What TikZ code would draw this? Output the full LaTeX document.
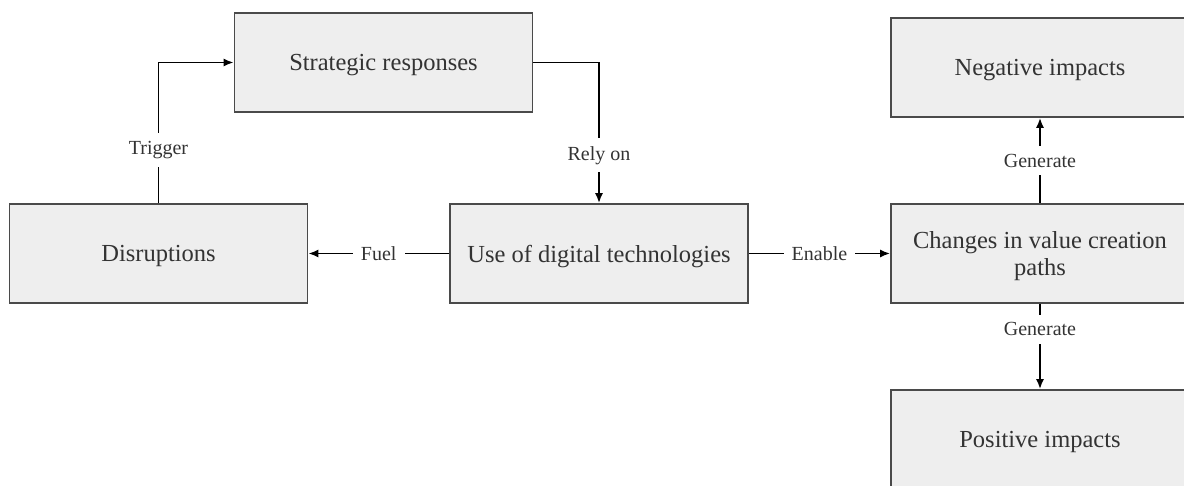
\documentclass[tikz,border=0pt]{standalone}
\usepackage{fontspec}
\setmainfont{Liberation Serif}
\usetikzlibrary{arrows.meta}
\definecolor{boxfill}{HTML}{EEEEEE}
\definecolor{boxline}{HTML}{4A4A4A}
\definecolor{txt}{HTML}{333333}

\begin{document}
\begin{tikzpicture}[
  x=1pt,y=-1pt,
  box/.style={draw=boxline,line width=1.6pt,fill=boxfill,text=txt,
    minimum width=298pt,minimum height=99pt,align=center,text depth=0pt,
    font=\fontsize{24.5}{30}\selectfont},
  to/.style={-{Latex[length=10pt,width=8pt]},line width=1.9pt,black},
  lbl/.style={fill=white,text=txt,inner sep=8pt,font=\fontsize{20}{24}\selectfont},
  every node/.style={align=center}]

  \useasboundingbox (0,0) rectangle (1184,486);

  % Boxes
  \node[box] (strategic) at (383.5,62.5) {Strategic responses};
  \node[box] (disruptions) at (158.5,253.5) {Disruptions};
  \node[box] (digitaluse) at (599,253.5) {Use of digital technologies};
  \node[box] (changes) at (1040,253.5) {Changes in value creation\\[-3pt]paths};
  \node[box] (negative) at (1040,67.5) {Negative impacts};
  \node[box] (positive) at (1040,439.5) {Positive impacts};

  % Connectors with their labels
  \draw[to] (disruptions.north) |- node[lbl,pos=0.19] {Trigger} (strategic.west);
  \draw[to] (strategic.east) -| node[lbl,pos=0.83] {Rely on} (digitaluse.north);
  \draw[to] (digitaluse.west) -- node[lbl,midway] {Fuel} (disruptions.east);
  \draw[to] (digitaluse.east) -- node[lbl,midway] {Enable} (changes.west);
  \draw[to] (changes.north) -- node[lbl,midway] {Generate} (negative.south);
  \draw[to] (changes.south) -- node[lbl,pos=0.3] {Generate} (positive.north);
\end{tikzpicture}
\end{document}
